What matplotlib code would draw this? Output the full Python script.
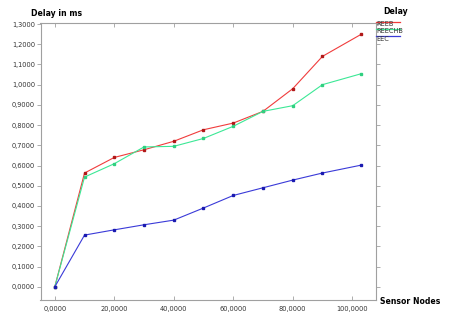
import matplotlib
matplotlib.use("Agg")
import matplotlib.pyplot as plt
from matplotlib.lines import Line2D
from matplotlib.ticker import FuncFormatter

nodes = [0, 10, 20, 30, 40, 50, 60, 70, 80, 90, 103]
reeb = [0.0, 0.563, 0.640, 0.678, 0.720, 0.777, 0.810, 0.868, 0.980, 1.140, 1.249]
reechb = [0.0, 0.543, 0.609, 0.692, 0.695, 0.734, 0.794, 0.868, 0.896, 1.000, 1.054]
eec = [0.0, 0.256, 0.282, 0.307, 0.330, 0.390, 0.452, 0.490, 0.528, 0.563, 0.602]
names = ["REEB", "REECHB", "EEC"]
colors = ["#f03c3c", "#3ce896", "#3a3ad8"]
mcolors = ["#b01818", "#30d080", "#1a1ab0"]

W, H = 450, 316
fig = plt.figure(figsize=(W / 100, H / 100), dpi=100)
ax = fig.add_axes([40.5 / W, 1 - 300 / H, (376 - 40.5) / W, (300 - 23) / H])

for ys, c, mc in zip([reeb, reechb, eec], colors, mcolors):
    ax.plot(nodes, ys, color=c, lw=0.8, marker="s", ms=2,
            mfc=mc, mec=mc, zorder=3)

ax.set_xlim(-4.8, 108)
ax.set_ylim(-0.065, 1.305)
ax.set_xticks(range(0, 101, 20))
ax.set_yticks([i / 10 for i in range(14)])
fmt = FuncFormatter(lambda v, p: f"{v:.4f}".replace(".", ","))
ax.xaxis.set_major_formatter(fmt)
ax.yaxis.set_major_formatter(fmt)

for s in ax.spines.values():
    s.set_color("#a0a0a0")
    s.set_linewidth(0.8)
ax.tick_params(axis="y", direction="out", length=3, width=0.6, color="#a0a0a0",
               labelsize=4.8, pad=1, labelcolor="#333333")
ax.tick_params(axis="x", direction="in", length=3, width=0.6, color="#a0a0a0",
               labelsize=4.8, pad=4, labelcolor="#333333")
ax.tick_params(right=True, top=True, which="major")

# legend to the right of the plot
for i, (n, c) in enumerate(zip(names, colors)):
    y = 1 - (21.7 + i * 7.2) / H
    fig.add_artist(Line2D([376 / W, 400 / W], [y, y], color=c, lw=0.9,
                          transform=fig.transFigure))
    fig.text(376.5 / W, y - 2.5 / H, n, fontsize=4.8, color="#333333",
             va="center", ha="left")

fig.text(31 / W, 1 - 13 / H, "Delay in ms", fontsize=5.6, fontweight="bold",
         va="center", ha="left")
fig.text(383 / W, 1 - 12 / H, "Delay", fontsize=5.6, fontweight="bold",
         va="center", ha="left")
fig.text(380 / W, 1 - 302 / H, "Sensor Nodes", fontsize=5.6, fontweight="bold",
         va="center", ha="left")

fig.savefig("out.png", dpi=100)
